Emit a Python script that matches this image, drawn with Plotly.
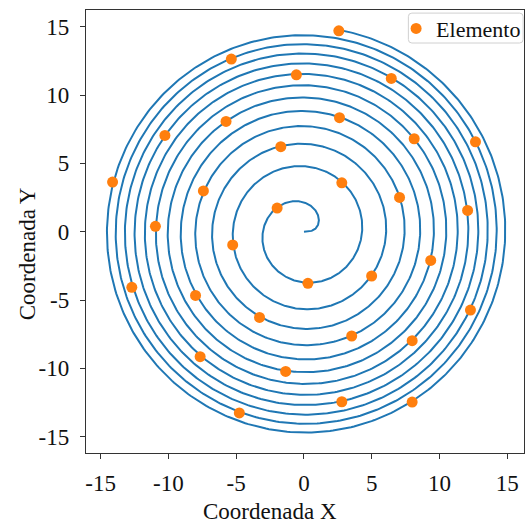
import numpy as np
import plotly.graph_objects as go

# Spiral parameters (Fermat spiral r = c*sqrt(theta))
SPIRAL_C = 1.71
THETA_MAX = 76.8

# Element positions
elem_x = [2.57, -5.36, -0.56, 6.44, 2.62, -5.75, -10.26, 8.13, 12.65, -1.71,
          -14.12, 2.79, -7.42, 7.05, 12.07, -1.98, -10.96, -5.26, 9.35, 4.99,
          0.29, -12.70, 12.28, -8.00, -3.28, 3.52, 7.98, -7.66, -1.35, 2.79,
          7.98, -4.77]
elem_y = [14.70, 12.63, 11.48, 11.21, 8.34, 8.07, 7.04, 6.80, 6.58, 6.22,
          3.63, 3.58, 2.98, 2.51, 1.56, 1.73, 0.39, -0.97, -2.10, -3.24,
          -3.78, -4.07, -5.73, -4.66, -6.27, -7.63, -7.97, -9.14, -10.22, -12.44,
          -12.46, -13.26]

tick_vals = [-15, -10, -5, 0, 5, 10, 15]
tick_text = ["-15", "-10", "-5", "0", "5", "10", "15"]

theta = np.linspace(0, THETA_MAX, 5000)
r = SPIRAL_C * np.sqrt(theta)
sx = r * np.cos(theta)
sy = r * np.sin(theta)

FONT = "Liberation Serif, Times New Roman, serif"
FS = 23

fig = go.Figure()
fig.add_trace(go.Scatter(x=sx, y=sy, mode="lines",
                         line=dict(color="#1f77b4", width=2),
                         showlegend=False, hoverinfo="skip"))
fig.add_trace(go.Scatter(x=elem_x, y=elem_y, mode="markers", name="Elemento",
                         marker=dict(color="#ff7f0e", size=11)))

axis_common = dict(
    tickvals=tick_vals, ticktext=tick_text,
    showgrid=False, zeroline=False,
    showline=True, linecolor="#333", linewidth=1.3, mirror=True,
    ticks="outside", ticklen=5, tickwidth=1.2, tickcolor="#333",
    tickfont=dict(family=FONT, size=FS, color="#111"),
)

# Legend frame (rounded, light grey) in paper coordinates
x0, x1, y0, y1, rad = 0.736, 0.998, 0.9255, 0.993, 0.008
ry = rad * 440 / 443
legend_path = (f"M {x0+rad},{y0} L {x1-rad},{y0} Q {x1},{y0} {x1},{y0+ry} "
               f"L {x1},{y1-ry} Q {x1},{y1} {x1-rad},{y1} L {x0+rad},{y1} "
               f"Q {x0},{y1} {x0},{y1-ry} L {x0},{y0+ry} Q {x0},{y0} {x0+rad},{y0} Z")

fig.update_layout(
    width=527, height=525,
    margin=dict(l=86, r=1, t=10, b=72),
    paper_bgcolor="white", plot_bgcolor="white",
    font=dict(family=FONT, size=FS, color="#111"),
    xaxis=dict(range=[-16.08, 16.23], ticklabelstandoff=4, **axis_common),
    yaxis=dict(range=[-16.19, 16.22], ticklabelstandoff=6, **axis_common),
    showlegend=True,
    legend=dict(x=0.708, y=0.958, xanchor="left", yanchor="middle",
                bgcolor="rgba(0,0,0,0)", borderwidth=0,
                font=dict(family=FONT, size=22, color="#111"),
                itemwidth=30, tracegroupgap=0),
    shapes=[dict(type="path", path=legend_path, xref="paper", yref="paper",
                 fillcolor="rgba(255,255,255,0.8)", line=dict(color="#d0d0d0", width=1),
                 layer="above")],
    annotations=[
        dict(text="Coordenada X", xref="paper", yref="paper",
             x=(271.3 - 86) / 440, y=(453 - 511.5) / 443,
             xanchor="center", yanchor="middle", showarrow=False, borderpad=0,
             font=dict(family=FONT, size=FS, color="#111")),
        dict(text="Coordenada Y", xref="paper", yref="paper",
             x=(27 - 86) / 440, y=(453 - 254) / 443, textangle=-90,
             xanchor="center", yanchor="middle", showarrow=False,
             font=dict(family=FONT, size=FS, color="#111")),
    ],
)

fig.write_html("out.html")
